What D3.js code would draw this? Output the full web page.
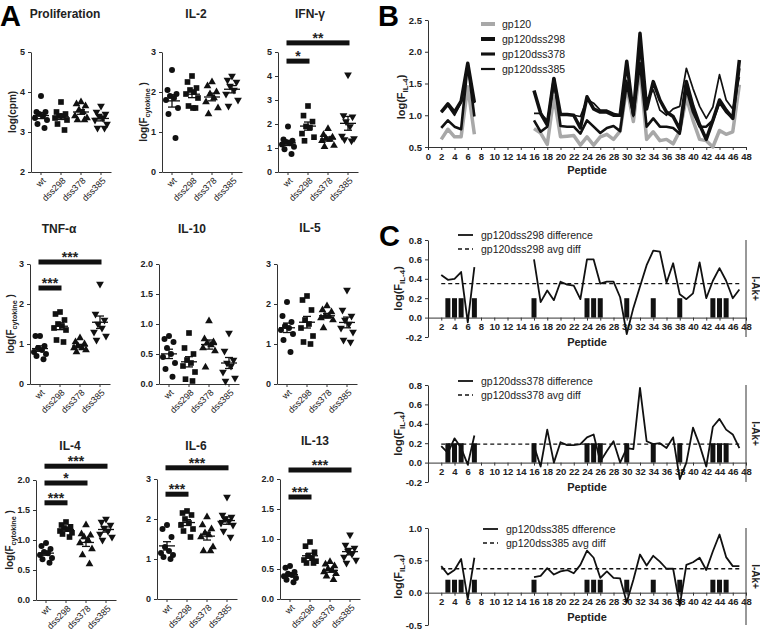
<!DOCTYPE html>
<html lang="en">
<head>
<meta charset="UTF-8">
<title>gp120 variants: cytokine responses and peptide mapping</title>
<style>
  body { margin: 0; background: #fff; }
  svg { display: block; font-family: "Liberation Sans", Arial, sans-serif; }
  .axis path, .axis line { stroke: #333; stroke-width: 1; }
  .axis text { font-family: "Liberation Sans", Arial, sans-serif; font-size: 9px; font-weight: bold; fill: #222; }
  .axis text.cat { font-weight: normal; font-size: 9px; fill: #222; }
  .ptitle { font-size: 12px; font-weight: bold; fill: #222; }
  .star { font-size: 14px; font-weight: bold; fill: #222; }
  .leg { font-size: 10.5px; fill: #222; }
  .letter { font-size: 29px; font-weight: bold; fill: #000; }
</style>
</head>
<body>
<svg id="fig" width="760" height="633"></svg>
<script src="https://cdn.jsdelivr.net/npm/d3@7"></script>
<script>
// ---- data ----
const groups = ["wt", "dss298", "dss378", "dss385"];

// panel A, one list per group (wt, dss298, dss378, dss385)
const prolif = [
  [3.9, 3.5, 3.5, 3.45, 3.4, 3.35, 3.3, 3.2, 3.1],
  [3.75, 3.5, 3.45, 3.4, 3.4, 3.35, 3.3, 3.2, 3.05],
  [3.75, 3.7, 3.65, 3.55, 3.5, 3.4, 3.35, 3.3, 3.3],
  [3.65, 3.5, 3.45, 3.4, 3.35, 3.3, 3.2, 3.1, 3.1]
];
const il2 = [
  [2.55, 2.05, 1.95, 1.9, 1.85, 1.8, 1.6, 1.45, 0.85],
  [2.4, 2.25, 2.1, 2.05, 2.0, 1.95, 1.85, 1.65, 1.6, 1.6],
  [2.25, 2.15, 2.0, 1.95, 1.85, 1.75, 1.6, 1.45],
  [2.4, 2.3, 2.25, 2.15, 2.05, 1.95, 1.8, 1.65]
];
const ifng = [
  [1.9, 1.35, 1.3, 1.25, 1.2, 1.15, 1.05, 0.95, 0.75],
  [2.75, 2.35, 2.1, 1.9, 1.85, 1.6, 1.45, 1.3],
  [1.8, 1.55, 1.45, 1.4, 1.35, 1.3, 1.1, 1.05],
  [4.05, 2.35, 2.3, 2.1, 1.9, 1.5, 1.4, 1.35, 1.3]
];
const tnf = [
  [1.2, 1.2, 0.95, 0.9, 0.85, 0.8, 0.75, 0.7, 0.62],
  [1.8, 1.75, 1.6, 1.5, 1.45, 1.4, 1.35, 1.1, 1.05],
  [1.15, 1.05, 1.0, 0.95, 0.9, 0.9, 0.85, 0.8],
  [2.5, 1.75, 1.6, 1.5, 1.4, 1.3, 1.2, 1.1]
];
const il10 = [
  [0.8, 0.75, 0.7, 0.6, 0.5, 0.45, 0.35, 0.25, 0.12],
  [0.85, 0.6, 0.5, 0.4, 0.35, 0.3, 0.2, 0.08, 0.05],
  [1.05, 0.75, 0.7, 0.68, 0.65, 0.6, 0.55, 0.28],
  [0.85, 0.55, 0.4, 0.35, 0.3, 0.2, 0.1, 0.05]
];
const il5 = [
  [2.05, 1.7, 1.55, 1.45, 1.4, 1.35, 1.25, 1.1, 0.8],
  [2.2, 2.1, 1.85, 1.6, 1.5, 1.4, 1.2, 1.05, 1.0],
  [1.95, 1.85, 1.8, 1.7, 1.7, 1.65, 1.6, 1.4],
  [2.35, 1.85, 1.7, 1.6, 1.5, 1.4, 1.3, 1.1, 1.05]
];
const il4 = [
  [0.95, 0.9, 0.85, 0.8, 0.78, 0.75, 0.7, 0.68, 0.62],
  [1.3, 1.25, 1.22, 1.2, 1.18, 1.15, 1.12, 1.1, 1.05],
  [1.25, 1.1, 1.08, 1.05, 1.0, 0.95, 0.85, 0.75, 0.6],
  [1.35, 1.3, 1.25, 1.2, 1.15, 1.1, 1.05, 1.0]
];
const il6 = [
  [1.85, 1.75, 1.55, 1.3, 1.2, 1.15, 1.1, 1.05, 1.0],
  [2.2, 2.15, 2.1, 2.0, 1.9, 1.85, 1.75, 1.7, 1.55],
  [2.05, 1.85, 1.75, 1.65, 1.6, 1.55, 1.3, 1.2, 1.2],
  [2.55, 2.1, 2.05, 2.0, 1.95, 1.9, 1.85, 1.7, 1.55]
];
const il13 = [
  [0.55, 0.52, 0.45, 0.42, 0.4, 0.38, 0.35, 0.32, 0.28],
  [0.95, 0.88, 0.78, 0.72, 0.68, 0.65, 0.63, 0.6, 0.6],
  [0.62, 0.58, 0.55, 0.5, 0.48, 0.45, 0.42, 0.38, 0.32],
  [1.07, 0.9, 0.85, 0.8, 0.75, 0.7, 0.65, 0.6]
];

// significance bars: group a to group b, drawn at value "at"
const sigIfng = [{a: 0, b: 3, at: 5.38, txt: "**"}, {a: 0, b: 1, at: 4.62, txt: "*"}];
const sigTnf = [{a: 0, b: 3, at: 3.05, txt: "***"}, {a: 0, b: 1, at: 2.4, txt: "***"}];
const sigIl4 = [{a: 0, b: 3, at: 2.23, txt: "***"}, {a: 0, b: 2, at: 1.95, txt: "*"}, {a: 0, b: 1, at: 1.62, txt: "***"}];
const sigIl6 = [{a: 0, b: 3, at: 3.28, txt: "***"}, {a: 0, b: 1, at: 2.62, txt: "***"}];
const sigIl13 = [{a: 0, b: 3, at: 2.15, txt: "***"}, {a: 0, b: 1, at: 1.7, txt: "***"}];

// panel B/C: peptides 2..47, null = not tested (8-15)
const peps = d3.range(2, 48);
const N8 = [null, null, null, null, null, null, null, null];
const bGp120 = [0.62, 0.78, 0.66, 0.66, 1.45, 0.70, ...N8,
  0.79, 0.72, 0.54, 1.30, 0.66, 0.67, 0.68, 0.53, 0.66, 0.53, 0.66, 0.70, 0.62, 0.75, 1.45, 0.90,
  1.75, 0.62, 0.74, 0.60, 0.62, 0.55, 0.75, 1.28, 0.92, 0.62, 0.60, 0.50, 0.76, 0.70, 0.74, 1.48];
const bDss298 = [1.05, 1.18, 1.05, 1.22, 1.82, 1.20, ...N8,
  1.39, 1.03, 0.85, 1.58, 1.01, 1.01, 1.00, 0.80, 1.29, 1.10, 1.05, 1.05, 1.00, 1.00, 1.85, 1.01,
  2.29, 1.10, 1.53, 1.24, 1.05, 0.98, 0.78, 1.53, 1.14, 0.85, 0.62, 0.92, 1.24, 1.08, 0.95, 1.87];
const bDss378 = [0.80, 0.92, 0.82, 0.78, 1.80, 0.98, ...N8,
  0.92, 0.74, 0.82, 1.58, 0.83, 0.82, 0.82, 0.71, 0.92, 0.82, 0.72, 0.80, 0.83, 0.75, 1.50, 1.01,
  1.82, 0.82, 0.95, 0.82, 0.82, 0.80, 0.71, 1.42, 1.05, 0.82, 0.82, 0.92, 1.20, 1.05, 0.95, 1.74];
const bDss385 = [1.05, 1.15, 1.00, 1.20, 1.78, 1.19, ...N8,
  1.03, 1.03, 0.92, 1.45, 1.01, 1.00, 1.00, 0.98, 1.25, 1.19, 1.08, 1.08, 1.03, 1.00, 1.55, 0.98,
  2.00, 1.24, 1.40, 1.08, 1.00, 1.10, 1.14, 1.74, 1.42, 1.14, 0.95, 1.13, 1.64, 1.24, 1.10, 1.60];
const bNames = ["gp120", "gp120dss298", "gp120dss378", "gp120dss385"];

const c298 = [0.44, 0.39, 0.40, 0.47, -0.05, 0.52, ...N8,
  0.60, 0.16, 0.28, 0.18, 0.37, 0.34, 0.33, 0.19, 0.60, 0.60, 0.35, 0.37, 0.37, 0.21, -0.17, 0.10,
  0.32, 0.54, 0.69, 0.68, 0.36, 0.56, 0.24, 0.19, 0.25, 0.57, 0.20, 0.38, 0.51, 0.38, 0.20, 0.29];
const c378 = [0.17, 0.10, 0.25, 0.15, -0.02, 0.28, ...N8,
  0.17, -0.04, 0.34, 0.00, 0.21, 0.18, 0.18, 0.19, 0.26, 0.29, 0.01, 0.12, 0.22, 0.00, 0.15, 0.14,
  0.77, 0.22, 0.19, 0.20, 0.15, 0.26, -0.17, 0.00, 0.36, 0.18, -0.04, 0.37, 0.45, 0.34, 0.29, 0.15];
const c385 = [0.41, 0.28, 0.35, 0.52, -0.10, 0.54, ...N8,
  0.24, 0.26, 0.38, 0.28, 0.33, 0.35, 0.30, 0.43, 0.65, 0.54, 0.23, 0.33, 0.23, 0.22, -0.15, 0.20,
  0.59, 0.42, 0.57, 0.48, 0.37, 0.37, -0.20, 0.43, 0.47, 0.54, 0.35, 0.64, 0.90, 0.55, 0.41, 0.41];
const avgDiff = [0.35, 0.19, 0.37];
const epitopes = [3, 4, 5, 7, 16, 24, 25, 26, 30, 34, 38, 43, 44, 45];
const epiHeight = 0.2;
const legC = [
  ["gp120dss298 difference", "gp120dss298 avg diff"],
  ["gp120dss378 difference", "gp120dss378 avg diff"],
  ["gp120dss385 dfference", "gp120dss385 avg diff"]
];

// ---- drawing ----
const svg = d3.select("#fig");
svg.append("rect").attr("width", 760).attr("height", 633).attr("fill", "#fff");

const fmt0 = d3.format("d");
const fmt1 = v => d3.format(".1f")(v).replace("\u2212", "-");
const cyto = ["log(F", "cytokine", " )"];
const il4lab = ["log(F", "IL-4", ")"];

function yTitle(cx, cy, parts, size) {
  const t = svg.append("text")
    .attr("transform", `translate(${cx + size * 0.36},${cy}) rotate(-90)`)
    .attr("text-anchor", "middle")
    .attr("font-weight", "bold")
    .attr("font-size", size)
    .attr("fill", "#222");
  t.append("tspan").text(parts[0]);
  if (parts.length > 1) {
    t.append("tspan").attr("dy", size * 0.3).attr("font-size", size * 0.72).text(parts[1]);
    t.append("tspan").attr("dy", -size * 0.3).text(parts[2]);
  }
}

svg.append("text").attr("class", "letter").attr("x", 0).attr("y", 26).text("A");
svg.append("text").attr("class", "letter").attr("x", 378).attr("y", 26).text("B");
svg.append("text").attr("class", "letter").attr("x", 379).attr("y", 246).text("C");

// panel A layout
const ticks3 = [0, 1, 2, 3], ticks2 = [0, 0.5, 1, 1.5, 2];
const panelsA = [
  {title: "Proliferation", vals: prolif, dom: [2, 5], ticks: [2, 3, 4, 5], f: fmt0, x0: 31, top: 52, tx: 65, ty: 18, ylab: ["log(cpm)"], lx: 12, sig: []},
  {title: "IL-2", vals: il2, dom: [0, 3], ticks: ticks3, f: fmt0, x0: 162, top: 52, tx: 196, ty: 18, ylab: cyto, lx: 143, sig: []},
  {title: "IFN-\u03b3", vals: ifng, dom: [0, 5], ticks: d3.range(0, 6), f: fmt0, x0: 278, top: 52, tx: 310, ty: 18, sig: sigIfng},
  {title: "TNF-\u03b1", vals: tnf, dom: [0, 3], ticks: ticks3, f: fmt0, x0: 30, top: 264, tx: 59, ty: 233, ylab: cyto, lx: 10, sig: sigTnf},
  {title: "IL-10", vals: il10, dom: [0, 2], ticks: ticks2, f: fmt1, x0: 159, top: 264, tx: 192, ty: 233, sig: []},
  {title: "IL-5", vals: il5, dom: [0, 3], ticks: ticks3, f: fmt0, x0: 277, top: 264, tx: 310, ty: 232, sig: []},
  {title: "IL-4", vals: il4, dom: [0, 2], ticks: ticks2, f: fmt1, x0: 36, top: 480, tx: 70, ty: 450, ylab: cyto, lx: 9, sig: sigIl4},
  {title: "IL-6", vals: il6, dom: [0, 3], ticks: ticks3, f: fmt0, x0: 157, top: 479, tx: 196, ty: 450, sig: sigIl6},
  {title: "IL-13", vals: il13, dom: [0, 2], ticks: ticks2, f: fmt1, x0: 280, top: 479, tx: 315, ty: 445, sig: sigIl13}
];
const shapes = [
  {type: d3.symbolCircle, size: 28, rot: 0},
  {type: d3.symbolSquare, size: 32, rot: 0},
  {type: d3.symbolTriangle, size: 26, rot: 0},
  {type: d3.symbolTriangle, size: 26, rot: 180}
];
const jit = [0, -4.5, 4.5, -2, 2, -6, 6, -3.5, 3.5, 1];

panelsA.forEach(p => {
  const bot = p.top + 120;
  const g = svg.append("g");
  const x = d3.scaleBand().domain(groups).range([p.x0, p.x0 + 80]);
  const y = d3.scaleLinear().domain(p.dom).range([bot, p.top]);
  const xc = k => x(k) + x.bandwidth() / 2;

  g.append("g").attr("class", "axis").attr("transform", `translate(0,${bot})`)
    .call(d3.axisBottom(x).tickSize(3).tickSizeOuter(0))
    .call(a => a.selectAll("text").attr("class", "cat").attr("x", 0).attr("y", 0).attr("dy", "0.35em")
      .attr("transform", "translate(3,7) rotate(-45)").style("text-anchor", "end"));
  g.append("g").attr("class", "axis").attr("transform", `translate(${p.x0},0)`)
    .call(d3.axisLeft(y).tickValues(p.ticks).tickFormat(p.f).tickSize(3).tickSizeOuter(0));

  g.append("text").attr("class", "ptitle").attr("x", p.tx).attr("y", p.ty)
    .attr("text-anchor", "middle").text(p.title);
  if (p.ylab) yTitle(p.lx, (p.top + bot) / 2, p.ylab, 10);

  p.vals.forEach((vs, gi) => {
    const cx = xc(groups[gi]);
    const s = shapes[gi];
    g.append("g").selectAll("path").data(vs).join("path")
      .attr("d", d3.symbol(s.type, s.size))
      .attr("transform", (v, i) => `translate(${cx + jit[i % jit.length]},${y(v)}) rotate(${s.rot})`)
      .attr("fill", "#111");
    const m = d3.mean(vs);
    const se = d3.deviation(vs) / Math.sqrt(vs.length);
    const w = g.append("g").attr("stroke", "#111").attr("stroke-width", 1.3);
    w.append("line").attr("x1", cx - 8).attr("x2", cx + 8).attr("y1", y(m)).attr("y2", y(m));
    w.append("line").attr("x1", cx).attr("x2", cx).attr("y1", y(m - se)).attr("y2", y(m + se));
    w.append("line").attr("x1", cx - 4).attr("x2", cx + 4).attr("y1", y(m - se)).attr("y2", y(m - se));
    w.append("line").attr("x1", cx - 4).attr("x2", cx + 4).attr("y1", y(m + se)).attr("y2", y(m + se));
  });

  p.sig.forEach(s => {
    const x1 = xc(groups[s.a]) - 1.5, x2 = xc(groups[s.b]) + 1.5;
    g.append("rect").attr("x", x1).attr("width", x2 - x1)
      .attr("y", y(s.at) - 2.5).attr("height", 5).attr("fill", "#111");
    g.append("text").attr("class", "star").attr("x", (x1 + x2) / 2).attr("y", y(s.at))
      .attr("text-anchor", "middle").text(s.txt);
  });
});

// panel B
const xP = d3.scaleLinear().domain([0, 48]).range([428, 746]);
const yB = d3.scaleLinear().domain([0.5, 2.5]).range([147, 20]);
const gB = svg.append("g");
gB.append("g").attr("class", "axis").attr("transform", "translate(0,147)")
  .call(d3.axisBottom(xP).tickValues(d3.range(0, 49, 2)).tickSize(3).tickSizeOuter(0))
  .call(a => a.selectAll("text").style("font-size", "9.5px"));
gB.append("g").attr("class", "axis").attr("transform", `translate(${xP(0)},0)`)
  .call(d3.axisLeft(yB).tickValues([0.5, 1, 1.5, 2, 2.5]).tickFormat(fmt1).tickSize(3).tickSizeOuter(0))
  .call(a => a.selectAll("text").style("font-size", "9.5px"));
yTitle(401, 97, il4lab, 11);
gB.append("text").attr("x", 587).attr("y", 174).attr("text-anchor", "middle")
  .attr("font-size", 11).attr("font-weight", "bold").attr("fill", "#222").text("Peptide");

const bSeries = [bGp120, bDss298, bDss378, bDss385];
const bStyle = [
  {color: "#a8a8a8", w: 3.5},
  {color: "#111", w: 3.5},
  {color: "#111", w: 2.6},
  {color: "#111", w: 1.7}
];
const lineP = yScale => d3.line()
  .defined(d => d != null)
  .x((d, i) => xP(peps[i]))
  .y(d => yScale(d));
bSeries.forEach((vals, k) => {
  gB.append("path").datum(vals).attr("d", lineP(yB)).attr("fill", "none")
    .attr("stroke", bStyle[k].color).attr("stroke-width", bStyle[k].w).attr("stroke-linejoin", "round");
  const ly = 24 + k * 15;
  gB.append("line").attr("x1", 481).attr("x2", 495).attr("y1", ly).attr("y2", ly)
    .attr("stroke", bStyle[k].color).attr("stroke-width", bStyle[k].w + 0.5);
  gB.append("text").attr("class", "leg").attr("x", 502).attr("y", ly + 4).text(bNames[k]);
});

// panel C
const cPanels = [
  {vals: c298, avg: avgDiff[0], dom: [-0.2, 0.8], ticks: [-0.2, 0, 0.2, 0.4, 0.6, 0.8], top: 240, bot: 337, leg: legC[0], lx: 458, ly: 235},
  {vals: c378, avg: avgDiff[1], dom: [-0.2, 0.8], ticks: [-0.2, 0, 0.2, 0.4, 0.6, 0.8], top: 385, bot: 482, leg: legC[1], lx: 458, ly: 381},
  {vals: c385, avg: avgDiff[2], dom: [-0.5, 1.0], ticks: [-0.5, 0, 0.5, 1.0], top: 528, bot: 625, leg: legC[2], lx: 483, ly: 529}
];
cPanels.forEach(c => {
  const y = d3.scaleLinear().domain(c.dom).range([c.bot, c.top]);
  const g = svg.append("g");

  g.append("g").selectAll("rect").data(epitopes).join("rect")
    .attr("x", d => xP(d) - 2.5).attr("width", 5)
    .attr("y", y(epiHeight)).attr("height", y(0) - y(epiHeight))
    .attr("fill", "#111");

  g.append("g").attr("class", "axis").attr("transform", `translate(0,${y(0)})`)
    .call(d3.axisBottom(xP).tickValues(d3.range(2, 49, 2)).tickSize(3).tickSizeOuter(0))
    .call(a => a.selectAll("text").style("font-size", "9.5px"));
  g.append("g").attr("class", "axis").attr("transform", `translate(${xP(0)},0)`)
    .call(d3.axisLeft(y).tickValues(c.ticks).tickFormat(fmt1).tickSize(3).tickSizeOuter(0))
    .call(a => a.selectAll("text").style("font-size", "9.5px"));

  // right-hand axis carrying the I-Ak+ label
  g.append("line").attr("x1", xP(48)).attr("x2", xP(48)).attr("y1", c.top).attr("y2", c.bot)
    .attr("stroke", "#333");
  g.append("text").attr("transform", `translate(752,${(c.top + c.bot) / 2}) rotate(90)`)
    .attr("text-anchor", "middle").attr("font-size", 10).attr("font-weight", "bold")
    .attr("fill", "#222").text("I-Ak+");

  g.append("path").datum(c.vals).attr("d", lineP(y)).attr("fill", "none")
    .attr("stroke", "#111").attr("stroke-width", 1.8).attr("stroke-linejoin", "round");
  g.append("line").attr("x1", xP(2)).attr("x2", xP(47)).attr("y1", y(c.avg)).attr("y2", y(c.avg))
    .attr("stroke", "#111").attr("stroke-width", 1.3).attr("stroke-dasharray", "4,3");

  yTitle(398, (c.top + c.bot) / 2, il4lab, 11);
  g.append("text").attr("x", 587).attr("y", y(0) + 28).attr("text-anchor", "middle")
    .attr("font-size", 11).attr("font-weight", "bold").attr("fill", "#222").text("Peptide");

  g.append("line").attr("x1", c.lx).attr("x2", c.lx + 15).attr("y1", c.ly).attr("y2", c.ly)
    .attr("stroke", "#111").attr("stroke-width", 1.8);
  g.append("text").attr("class", "leg").attr("x", c.lx + 23).attr("y", c.ly + 4).text(c.leg[0]);
  g.append("line").attr("x1", c.lx).attr("x2", c.lx + 15).attr("y1", c.ly + 14).attr("y2", c.ly + 14)
    .attr("stroke", "#111").attr("stroke-width", 1.3).attr("stroke-dasharray", "4,3");
  g.append("text").attr("class", "leg").attr("x", c.lx + 23).attr("y", c.ly + 18).text(c.leg[1]);
});
</script>
</body>
</html>
